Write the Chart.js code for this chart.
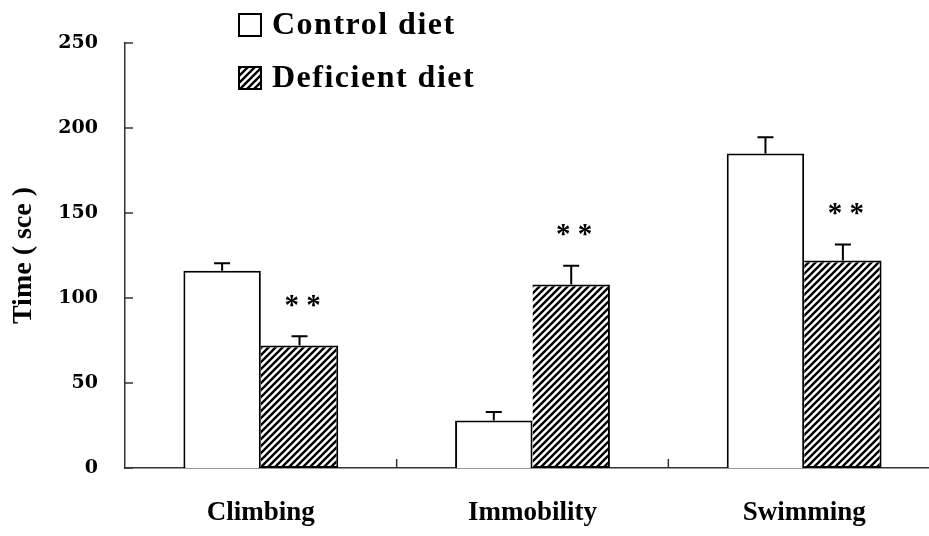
<!DOCTYPE html>
<html lang="en">
<head>
<meta charset="UTF-8">
<title>Time by behaviour</title>
<script src="https://cdn.jsdelivr.net/npm/chart.js"></script>
<style>
    html, body { margin: 0; padding: 0; background: #fff; overflow: hidden; }
</style>
</head>
<body>
<canvas id="timeChart" width="940" height="536"></canvas>

<script>
    // values (seconds)
    const categories = ['Climbing', 'Immobility', 'Swimming'];
    const controlValues = [116, 28, 185];
    const controlErrors = [4.5, 5, 9.5];
    const deficientValues = [72, 108, 122];
    const deficientErrors = [5.5, 11, 9.5];
    const deficientMarks = ['* *', '* *', '* *'];
    const yTicks = [0, 50, 100, 150, 200, 250];
    const seriesNames = ['Control diet', 'Deficient diet'];

    const serif = "'Liberation Serif', 'Times New Roman', serif";

    function makeHatch() {
        const c = document.createElement('canvas');
        c.width = 7; c.height = 7;
        const g = c.getContext('2d');
        g.fillStyle = '#fff';
        g.fillRect(0, 0, 7, 7);
        g.strokeStyle = '#000';
        g.lineWidth = 2.4;
        g.beginPath();
        g.moveTo(-1, 8); g.lineTo(8, -1);
        g.moveTo(-3, 3); g.lineTo(3, -3);
        g.moveTo(4, 10); g.lineTo(10, 4);
        g.stroke();
        return g.createPattern(c, 'repeat');
    }
    const hatch = makeHatch();

    // error bars, significance marks, inward ticks and the legend
    const extras = {
        id: 'extras',
        afterDatasetsDraw(chart) {
            const ctx = chart.ctx;
            const y = chart.scales.y;
            const x = chart.scales.x;
            const area = chart.chartArea;
            const errs = [controlErrors, deficientErrors];

            ctx.save();
            ctx.strokeStyle = '#000';
            ctx.lineWidth = 2;
            chart.data.datasets.forEach((ds, di) => {
                chart.getDatasetMeta(di).data.forEach((bar, i) => {
                    const top = y.getPixelForValue(ds.data[i] + errs[di][i]);
                    ctx.beginPath();
                    ctx.moveTo(bar.x, bar.y);
                    ctx.lineTo(bar.x, top);
                    ctx.moveTo(bar.x - 8, top);
                    ctx.lineTo(bar.x + 8, top);
                    ctx.stroke();
                    if (di === 1) {
                        ctx.fillStyle = '#000';
                        ctx.font = 'bold 29px ' + serif;
                        ctx.textAlign = 'center';
                        ctx.textBaseline = 'middle';
                        ctx.fillText(deficientMarks[i], bar.x + 3, top - 30);
                    }
                });
            });

            // tick marks pointing into the plot
            ctx.strokeStyle = '#333';
            ctx.lineWidth = 1.5;
            yTicks.forEach(v => {
                const py = y.getPixelForValue(v);
                ctx.beginPath();
                ctx.moveTo(area.left, py);
                ctx.lineTo(area.left + 8, py);
                ctx.stroke();
            });
            for (let i = 1; i < categories.length; i++) {
                const px = (x.getPixelForValue(i - 1) + x.getPixelForValue(i)) / 2;
                ctx.beginPath();
                ctx.moveTo(px, area.bottom);
                ctx.lineTo(px, area.bottom - 9);
                ctx.stroke();
            }

            // legend
            ctx.font = 'bold 32px ' + serif;
            ctx.letterSpacing = '1.5px';
            ctx.textAlign = 'left';
            ctx.textBaseline = 'middle';
            const fills = ['#fff', hatch];
            seriesNames.forEach((name, k) => {
                const cy = 25 + k * 53;
                ctx.fillStyle = fills[k];
                ctx.fillRect(239, cy - 11, 22, 22);
                ctx.strokeStyle = '#000';
                ctx.lineWidth = 2;
                ctx.strokeRect(239, cy - 11, 22, 22);
                ctx.fillStyle = '#000';
                ctx.fillText(name, 272, cy + 1);
            });
            ctx.restore();
        }
    };

    new Chart(document.getElementById('timeChart'), {
        type: 'bar',
        data: {
            labels: categories,
            datasets: [{
                label: seriesNames[0],
                data: controlValues,
                backgroundColor: '#fff',
                borderColor: '#000',
                borderWidth: 2
            }, {
                label: seriesNames[1],
                data: deficientValues,
                backgroundColor: hatch,
                borderColor: '#000',
                borderWidth: 2,
                borderSkipped: 'left'
            }]
        },
        options: {
            responsive: false,
            animation: false,
            layout: { padding: { top: 43, right: 0, bottom: 0, left: 0 } },
            categoryPercentage: 0.57,
            barPercentage: 1.0,
            plugins: {
                legend: { display: false },
                tooltip: { enabled: false }
            },
            scales: {
                x: {
                    grid: { display: false, drawTicks: false },
                    border: { display: true, color: '#333', width: 1.5 },
                    ticks: {
                        color: '#000',
                        padding: 29,
                        font: { family: serif, size: 27, weight: 'bold' }
                    },
                    afterFit: s => { s.height = 68; }
                },
                y: {
                    min: 0,
                    max: 250,
                    afterBuildTicks: s => { s.ticks = yTicks.map(v => ({ value: v })); },
                    grid: { display: false, drawTicks: false },
                    border: { display: true, color: '#333', width: 1.5 },
                    ticks: {
                        color: '#000',
                        padding: 27,
                        font: { family: "'DejaVu Serif', serif", size: 19, weight: 'bold' }
                    },
                    title: {
                        display: true,
                        text: 'Time ( sce )',
                        color: '#000',
                        padding: { top: 7, bottom: 0 },
                        font: { family: serif, size: 28, weight: 'bold' }
                    },
                    afterFit: s => { s.width = 125; }
                }
            }
        },
        plugins: [extras]
    });
</script>
</body>
</html>
